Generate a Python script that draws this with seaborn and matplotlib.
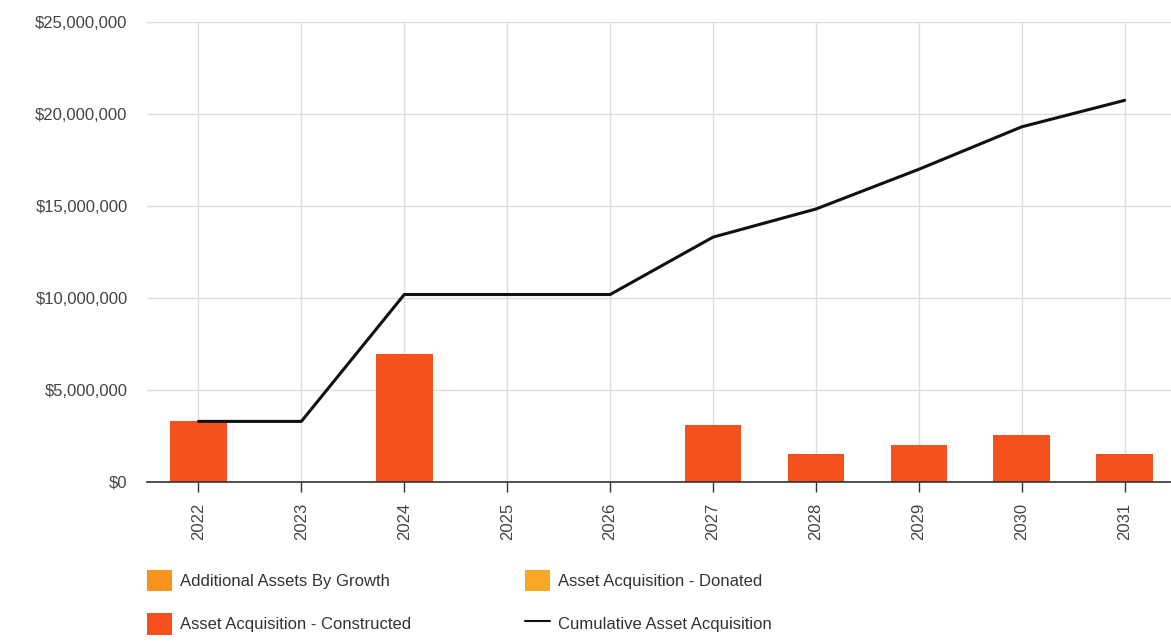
import numpy as np
import pandas as pd
import matplotlib
matplotlib.use("Agg")
import matplotlib.pyplot as plt
from matplotlib.patches import Patch
from matplotlib.lines import Line2D
from matplotlib.ticker import FuncFormatter, MultipleLocator
import seaborn as sns

# Annual asset acquisition values (dollars)
years = ["2022", "2023", "2024", "2025", "2026", "2027", "2028", "2029", "2030", "2031"]
additional_by_growth = [0, 0, 0, 0, 0, 0, 0, 0, 0, 0]
acquisition_donated = [0, 0, 0, 0, 0, 0, 0, 0, 0, 0]
acquisition_constructed = [3280000, 0, 6940000, 0, 0, 3100000, 1510000, 2010000, 2520000, 1510000]
cumulative_acquisition = [3280000, 3280000, 10180000, 10180000, 10180000,
                          13300000, 14830000, 16990000, 19300000, 20740000]

series_names = ["Additional Assets By Growth", "Asset Acquisition - Donated",
                "Asset Acquisition - Constructed", "Cumulative Asset Acquisition"]
colors = {"growth": "#F7931E", "donated": "#F9A825", "constructed": "#F4511E", "line": "#111111"}

sns.set_theme(style="white")
plt.rcParams["font.family"] = ["Liberation Sans", "DejaVu Sans"]

fig = plt.figure(figsize=(11.71, 6.43), dpi=100)
ax = fig.add_axes([147 / 1171, 1 - 481.7 / 643, 1 - 147 / 1171, (481.7 - 22) / 643])

df = pd.DataFrame({
    "year": years,
    "growth": additional_by_growth,
    "donated": acquisition_donated,
    "constructed": acquisition_constructed,
    "cumulative": cumulative_acquisition,
})

# Stacked bars: constructed at the base, then donated and growth on top
bar_w = 0.55
sns.barplot(data=df, x="year", y="constructed", color=colors["constructed"],
            width=bar_w, linewidth=0, saturation=1, ax=ax, zorder=2)
base = df["constructed"].to_numpy()
for key in ["donated", "growth"]:
    vals = df[key].to_numpy()
    for i, (v, b) in enumerate(zip(vals, base)):
        if v > 0:
            ax.bar(i, v, bottom=b, width=bar_w, color=colors[key], linewidth=0, zorder=2)
    base = base + vals

idx = np.arange(len(years))
sns.lineplot(x=idx, y=df["cumulative"], color=colors["line"], linewidth=2.2,
             ax=ax, zorder=3)

ax.set_xlim(-0.5, 9.45)
ax.set_ylim(0, 25_000_000)
ax.yaxis.set_major_locator(MultipleLocator(5_000_000))
ax.yaxis.set_major_formatter(FuncFormatter(lambda v, _: f"${v:,.0f}"))
ax.set_xticks(idx)
ax.set_xticklabels(years, rotation=90)
ax.set_xlabel("")
ax.set_ylabel("")

ax.grid(True, axis="both", color="#dddddd", linewidth=1, zorder=0)
ax.set_axisbelow(True)
for side in ["left", "right", "top"]:
    ax.spines[side].set_visible(False)
ax.spines["bottom"].set_color("#333333")
ax.spines["bottom"].set_linewidth(1.2)

ax.tick_params(axis="x", bottom=True, length=7, width=1, color="#333333",
               labelsize=12, labelcolor="#444444", pad=8)
ax.tick_params(axis="y", left=False, labelsize=12, labelcolor="#444444", pad=8)

handles = [
    Patch(facecolor=colors["growth"], edgecolor="none"),
    Patch(facecolor=colors["constructed"], edgecolor="none"),
    Patch(facecolor=colors["donated"], edgecolor="none"),
    Line2D([0], [0], color=colors["line"], linewidth=1.5),
]
labels = [series_names[0], series_names[2], series_names[1], series_names[3]]
fig.legend(handles, labels, loc="upper left", bbox_to_anchor=(147 / 1171, 1 - 570 / 643),
           ncol=2, frameon=False, fontsize=12, labelcolor="#333333",
           handlelength=1.5, handleheight=1.6, handletextpad=0.5,
           columnspacing=6.8, labelspacing=1.3, borderpad=0, borderaxespad=0)

fig.savefig("out.png", dpi=100)
